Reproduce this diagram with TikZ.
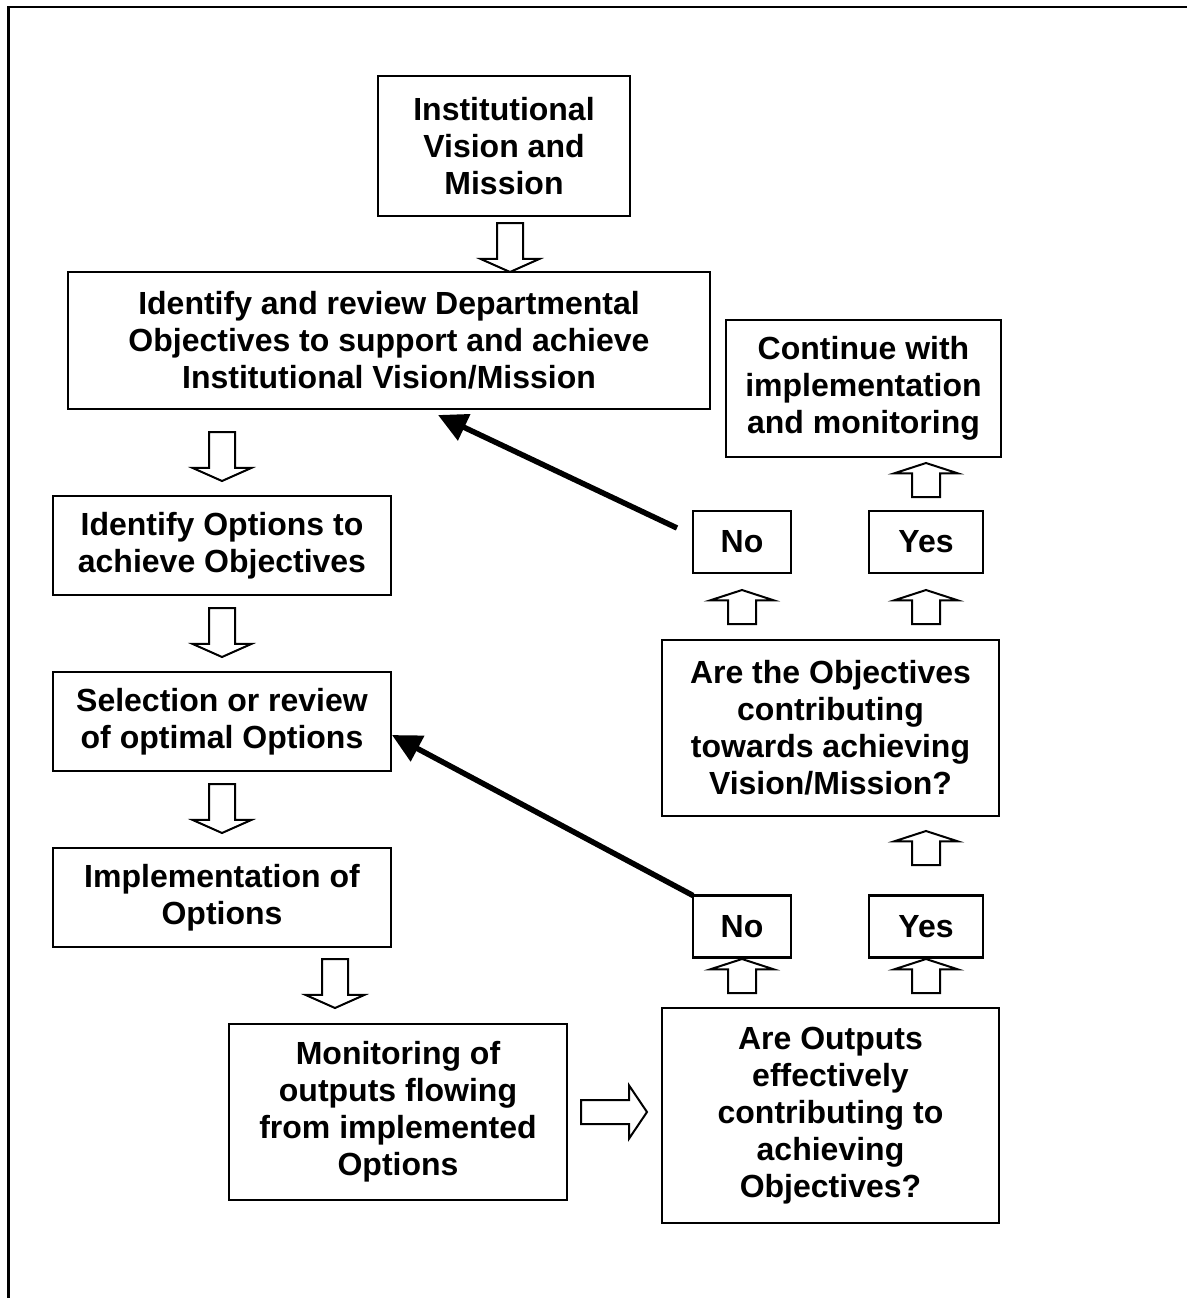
\documentclass[tikz,border=0pt]{standalone}
\usepackage{fontspec}
\setmainfont{Liberation Sans}
\usepackage{tikz}
\usetikzlibrary{shapes.arrows,arrows.meta,positioning,calc}

\begin{document}
\begin{tikzpicture}[
        x=0.5pt, y=-0.5pt,
        proc/.style={rectangle, draw, line width=1.4pt, align=center, inner sep=2pt, outer sep=0pt,
            font=\fontsize{16}{18.5}\selectfont\bfseries},
        lbox/.style={proc, minimum width=169pt, minimum height=49.5pt},
        answer/.style={proc, minimum height=31pt},
        hollow/.style={single arrow, draw, line width=1pt, minimum width=0pt, outer sep=0pt},
        dnarrow/.style={hollow, inner xsep=6pt, inner ysep=0pt, minimum height=24.5pt, single arrow head extend=8.25pt,
            single arrow tip angle=132, shape border rotate=270},
        uparrow/.style={hollow, inner xsep=6.5pt, inner ysep=0pt, minimum height=17pt, single arrow head extend=9pt,
            single arrow tip angle=144, shape border rotate=90},
        rtarrow/.style={hollow, inner xsep=0pt, inner ysep=5.5pt, minimum height=33pt, single arrow head extend=7.25pt,
            single arrow tip angle=112},
        loopback/.style={-{Triangle[length=14.5pt,width=14pt]}, line width=2.75pt}
    ]
        \useasboundingbox (0,0) rectangle (1187,1298);
        % Frame
        \draw[line width=1.25pt] (8.5,1298) -- (8.5,7) -- (1187,7);

        % Top
        \node[proc, minimum width=126pt, minimum height=70pt] (inst) at (504,146) {Institutional\\Vision and\\Mission};
        \node[proc, minimum width=321pt, minimum height=68.5pt] (dept) at (389,340.5) {Identify and review Departmental\\Objectives to support and achieve\\Institutional Vision/Mission};
        \node[proc, minimum width=137.5pt, minimum height=68.5pt] (cont) at (863.5,388.5) {Continue with\\implementation\\and monitoring};

        % Left column
        \node[lbox] (opts) at (222,545.5) {Identify Options to\\achieve Objectives};
        \node[lbox, below=38.5pt of opts] (sel) {Selection or review\\of optimal Options};
        \node[lbox, below=38.5pt of sel] (impl) {Implementation of\\Options};
        \node[proc, minimum width=169pt, minimum height=88pt] (mon) at (398,1112) {Monitoring of\\outputs flowing\\from implemented\\Options};

        % Right column
        \node[proc, minimum width=168.5pt, minimum height=107.5pt] (outq) at (830.5,1115.5) {Are Outputs\\effectively\\contributing to\\achieving\\Objectives?};
        \node[answer, minimum width=49pt] (noB) at (742,926.5) {No};
        \node[answer, minimum width=57pt] (yesB) at (926,926.5) {Yes};
        \node[proc, minimum width=168.5pt, minimum height=88pt] (objq) at (830.5,728) {Are the Objectives\\contributing\\towards achieving\\Vision/Mission?};
        \node[answer, minimum width=49pt] (noA) at (742,542) {No};
        \node[answer, minimum width=57pt] (yesA) at (926,542) {Yes};

        % Hollow arrows
        \node[dnarrow, anchor=tip] (a1) at ([xshift=3pt]inst.south |- dept.north) {};
        \node[dnarrow, anchor=tip] (a2) at ([yshift=7.5pt]opts.north) {};
        \node[dnarrow, anchor=tip] (a3) at ([yshift=7.5pt]sel.north) {};
        \node[dnarrow, anchor=tip] (a4) at ([yshift=7.5pt]impl.north) {};
        \node[dnarrow, anchor=tip] (a5) at ([xshift=-31.5pt,yshift=8pt]mon.north) {};
        \node[rtarrow, anchor=tail] (a6) at ([xshift=7pt]mon.east) {};
        \node[uparrow, anchor=tail] (b1) at ([yshift=7.5pt]outq.north -| noB) {};
        \node[uparrow, anchor=tail] (b2) at ([yshift=7.5pt]outq.north -| yesB) {};
        \node[uparrow, anchor=tip] (b3) at ([yshift=-7.5pt]objq.south -| yesB) {};
        \node[uparrow, anchor=tail] (b4) at ([yshift=8pt]objq.north -| noA) {};
        \node[uparrow, anchor=tail] (b5) at ([yshift=8pt]objq.north -| yesA) {};
        \node[uparrow, anchor=tip] (b6) at ([yshift=-3pt]cont.south -| yesA) {};

        % Feedback
        \draw[loopback] ([xshift=-8pt,yshift=7pt]noA.west) -- ([xshift=24.5pt,yshift=-3pt]dept.south);
        \draw[loopback] (noB.north west) -- ([xshift=0.5pt,yshift=-6.75pt]sel.east);
    \end{tikzpicture}
\end{document}
